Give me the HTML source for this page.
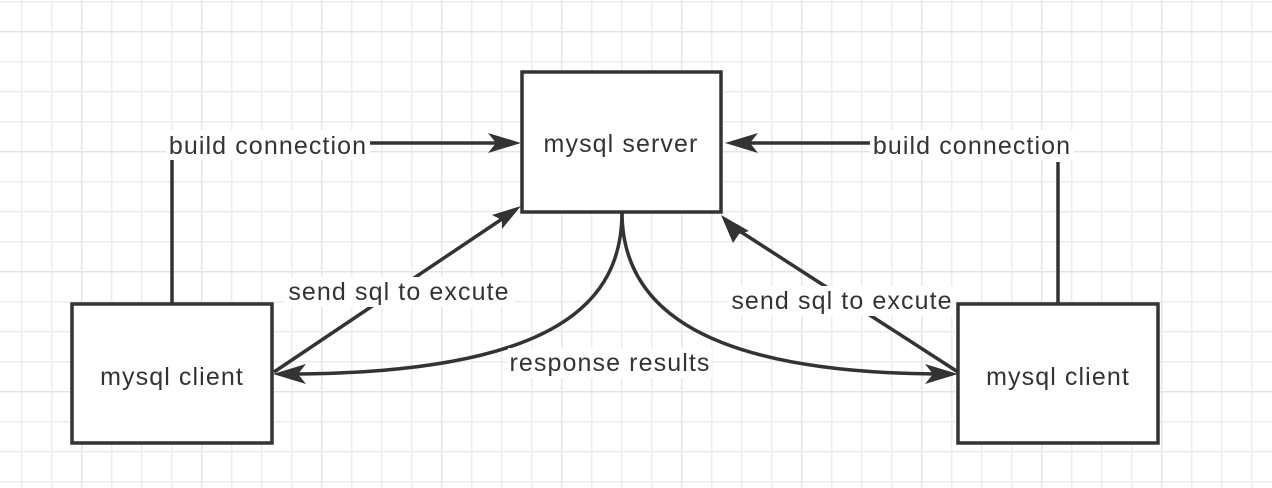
<!DOCTYPE html>
<html><head><style>
html,body{margin:0;padding:0;background:#fff;}
svg{display:block;}
text{font-family:"Liberation Sans",sans-serif;font-size:25px;letter-spacing:1.1px;fill:#333;}
</style></head><body>
<svg width="1272" height="488" viewBox="0 0 1272 488" xmlns="http://www.w3.org/2000/svg">
<defs>
<pattern id="g" x="21" y="1" width="30" height="30" patternUnits="userSpaceOnUse">
<path d="M0.5 0V30M0 0.5H30" stroke="#ececec" stroke-width="2" fill="none"/>
</pattern>
<pattern id="G" x="81" y="31" width="120" height="120" patternUnits="userSpaceOnUse">
<path d="M0.5 0V120M0 0.5H120" stroke="#e4e4e4" stroke-width="2" fill="none"/>
</pattern>
</defs>
<rect width="1272" height="488" fill="url(#g)"/>
<rect width="1272" height="488" fill="url(#G)"/>
<g stroke="#333" stroke-width="3.5" fill="none">
<path d="M172 304V160"/>
<path d="M370 143H500"/>
<path d="M1058 304V162"/>
<path d="M870 143H748"/>
<path d="M274 372L505 217"/>
<path d="M958 372L738 230"/>
<path d="M622 212C622 300 560 372 296 374"/>
<path d="M622 212C622 300 690 372 936 374"/>
</g>
<g fill="#333">
<polygon points="521,143 488,133 496,143 488,153"/>
<polygon points="725,143 758,133 750,143 758,153"/>
<polygon points="521,206 502,229 502,220 492,215"/>
<polygon points="721,215 733,243 739,234 749,231"/>
<polygon points="273,374 306,364 298,374 306,384"/>
<polygon points="958,374 925,364 933,374 925,384"/>
</g>
<g fill="#fff">
<rect x="166" y="130" width="204" height="30"/>
<rect x="870" y="130" width="204" height="30"/>
<rect x="284" y="277" width="230" height="30"/>
<rect x="728" y="286" width="228" height="30"/>
<rect x="508" y="348" width="204" height="30"/>
</g>
<g stroke="#333" stroke-width="3.5" fill="#fff">
<rect x="522" y="72" width="199" height="140"/>
<rect x="72" y="304" width="200" height="139"/>
<rect x="958" y="304" width="200" height="139"/>
</g>
<text x="268" y="154" text-anchor="middle">build connection</text>
<text x="972" y="154" text-anchor="middle">build connection</text>
<text x="621" y="152" text-anchor="middle">mysql server</text>
<text x="172" y="385" text-anchor="middle">mysql client</text>
<text x="1058" y="385" text-anchor="middle">mysql client</text>
<text x="399" y="300" text-anchor="middle">send sql to excute</text>
<text x="842" y="309" text-anchor="middle">send sql to excute</text>
<text x="610" y="371" text-anchor="middle">response results</text>
</svg>
</body></html>
